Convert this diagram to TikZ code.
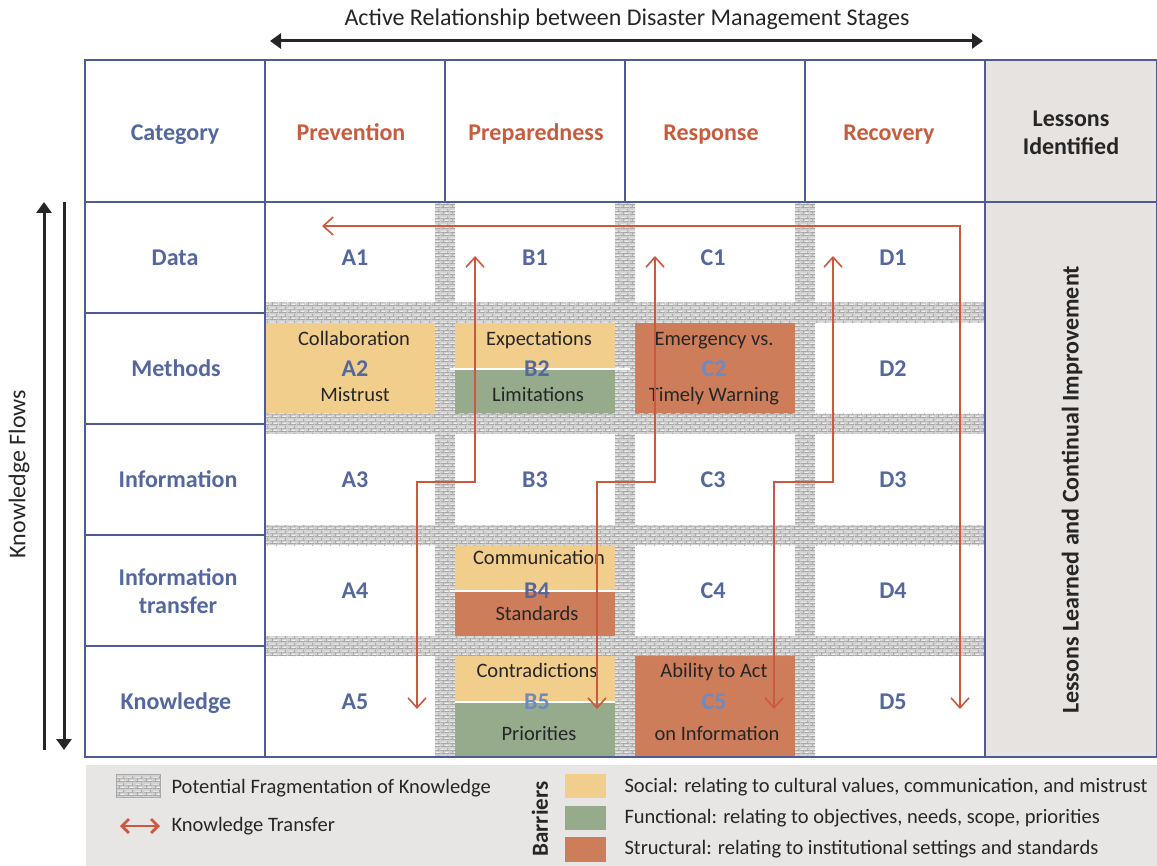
\documentclass[tikz,border=0pt]{standalone}
\usepackage{fontspec}
\setmainfont{Carlito}
\usetikzlibrary{arrows.meta,patterns}

\definecolor{gridblue}{RGB}{78,92,150}
\definecolor{idblue}{RGB}{84,104,158}
\definecolor{idlight}{RGB}{110,138,195}
\definecolor{stageorange}{RGB}{200,92,62}
\definecolor{social}{RGB}{242,206,140}
\definecolor{functional}{RGB}{150,170,140}
\definecolor{structural}{RGB}{205,125,90}
\definecolor{lessonsgray}{RGB}{230,227,225}
\definecolor{legendgray}{RGB}{232,230,228}
\definecolor{flowred}{RGB}{206,88,62}
\definecolor{stonebase}{RGB}{210,210,210}
\definecolor{stoneline}{RGB}{168,168,168}
\definecolor{stonehi}{RGB}{240,240,240}

% cobblestone texture for the fragmentation strips: dark joints
\pgfdeclarepatternformonly{cobble}{\pgfpointorigin}{\pgfqpoint{9pt}{7pt}}{\pgfqpoint{9pt}{7pt}}{%
  \pgfsetlinewidth{0.7pt}%
  \pgfpathmoveto{\pgfqpoint{0pt}{0.5pt}}\pgfpathcurveto{\pgfqpoint{3pt}{1.2pt}}{\pgfqpoint{6pt}{0pt}}{\pgfqpoint{9pt}{0.5pt}}%
  \pgfpathmoveto{\pgfqpoint{0pt}{4pt}}\pgfpathcurveto{\pgfqpoint{3pt}{3.4pt}}{\pgfqpoint{6pt}{4.6pt}}{\pgfqpoint{9pt}{4pt}}%
  \pgfpathmoveto{\pgfqpoint{3pt}{0.5pt}}\pgfpathlineto{\pgfqpoint{2.6pt}{4pt}}%
  \pgfpathmoveto{\pgfqpoint{7pt}{4pt}}\pgfpathlineto{\pgfqpoint{7.4pt}{7pt}}%
  \pgfusepath{stroke}}
% light highlights on the stones
\pgfdeclarepatternformonly{cobblehi}{\pgfpointorigin}{\pgfqpoint{9pt}{7pt}}{\pgfqpoint{9pt}{7pt}}{%
  \pgfsetlinewidth{0.8pt}%
  \pgfpathmoveto{\pgfqpoint{4pt}{1.6pt}}\pgfpathlineto{\pgfqpoint{8pt}{1.8pt}}%
  \pgfpathmoveto{\pgfqpoint{0.5pt}{5.2pt}}\pgfpathlineto{\pgfqpoint{6pt}{5.4pt}}%
  \pgfusepath{stroke}}

\tikzset{
  grid line/.style={draw=gridblue, line width=1.4pt},
  stone/.style={fill=stonebase,
    postaction={pattern=cobblehi, pattern color=stonehi},
    postaction={pattern=cobble, pattern color=stoneline}},
  bigtext/.style={font=\bfseries\fontsize{24}{28}\selectfont, text height=20pt, text depth=5pt},
  hdrtext/.style={bigtext, text=idblue, align=center},
  stagetext/.style={bigtext, text=stageorange},
  lessontext/.style={bigtext, text=black!85, align=center},
  cellid/.style={bigtext, text=idblue},
  cellidlt/.style={bigtext, text=idlight},
  barrier/.style={font=\fontsize{20.5}{24}\selectfont, text=black!85, text height=17pt, text depth=4pt},
  legendtext/.style={font=\fontsize{20.5}{24}\selectfont, text=black!85, anchor=west},
  rbarb/.tip={Straight Barb[length=10pt,width=18pt,line width=1.6pt]},
  bhead/.tip={Triangle[length=11pt,width=15pt]},
  flowboth/.style={draw=flowred, line width=1.6pt, {rbarb}-{rbarb}},
  blackline/.style={draw=black!85, line width=3pt},
}

\begin{document}
\begin{tikzpicture}[x=1pt,y=-1pt]
\useasboundingbox (0,0) rectangle (1157,866);
\fill[white] (0,0) rectangle (1157,866);

% title and stage arrow
\node[font=\fontsize{24}{28}\selectfont, text=black!85] (title) at (627,19) {Active Relationship between Disaster Management Stages};
\coordinate (stL) at (270,41);
\coordinate (stR) at (983,41);
\draw[blackline, {bhead}-{bhead}] (stL) -- (stR);

% knowledge flow arrows on the left
\coordinate (kfUpB) at (44,750);
\coordinate (kfUpT) at (44,202);
\coordinate (kfDnT) at (64,202);
\coordinate (kfDnB) at (64,750);
\draw[blackline, -{bhead}] (kfUpB) -- (kfUpT);
\draw[blackline, -{bhead}] (kfDnT) -- (kfDnB);
\node[rotate=90, font=\fontsize{24}{28}\selectfont, text=black!85] (kflow) at (19,474) {Knowledge Flows};

% lessons column and legend band
\fill[lessonsgray] (985,60) rectangle (1157,757);
\fill[legendgray] (86,765) rectangle (1157,866);

% barrier boxes
\fill[social] (265,323) rectangle (435,414);
\fill[social] (455,323) rectangle (615,369);
\fill[functional] (455,369) rectangle (615,414);
\fill[structural] (635,323) rectangle (795,414);
\fill[social] (455,545) rectangle (615,591);
\fill[structural] (455,591) rectangle (615,636);
\fill[social] (455,656) rectangle (615,702);
\fill[functional] (455,702) rectangle (615,757);
\fill[structural] (635,656) rectangle (795,757);

% fragmentation strips
\foreach \y in {313,424,535,646} {
  \path[stone] (265,\y-10) rectangle (985,\y+10);
}
\foreach \x in {445,625,805} {
  \path[stone] (\x-10,202) rectangle (\x+10,757);
}

% seams between the two halves of split boxes
\draw[white, line width=1.5pt] (450,369) -- (630,369);
\draw[white, line width=1.5pt] (450,591) -- (630,591);
\draw[white, line width=1.5pt] (455,702) -- (615,702);

% table lines
\draw[grid line] (85,60) rectangle (1157,757);
\draw[grid line] (85,202) -- (1157,202);
\draw[grid line] (265,60) -- (265,757);
\draw[grid line] (985,60) -- (985,757);
\foreach \x in {445,625,805} { \draw[grid line] (\x,60) -- (\x,202); }
\foreach \y in {313,424,535,646} { \draw[grid line] (85,\y) -- (265,\y); }

% header row
\node[hdrtext] (hcat) at (175,133) {Category};
\node[stagetext] (hprev) at (351,133) {Prevention};
\node[stagetext] (hprep) at (536,133) {Preparedness};
\node[stagetext] (hresp) at (711,133) {Response};
\node[stagetext] (hrec) at (889,133) {Recovery};
\node[font=\bfseries\fontsize{24}{28}\selectfont, text=black!85, align=center] (hles) at (1071,133) {Lessons\\Identified};

% category column
\node[hdrtext] (rdata) at (175,258) {Data};
\node[hdrtext] (rmeth) at (176,369) {Methods};
\node[hdrtext] (rinfo) at (178,480) {Information};
\node[font=\bfseries\fontsize{24}{28}\selectfont, text=idblue, align=center] (rtrans) at (178,591) {Information\\transfer};
\node[hdrtext] (rknow) at (176,702) {Knowledge};

% lessons learned column
\node[lessontext, rotate=90] (lll) at (1071,490) {Lessons Learned and Continual Improvement};

% cell identifiers
\node[cellid] (A1) at (355,258) {A1};
\node[cellid] (B1) at (535,258) {B1};
\node[cellid] (C1) at (713,258) {C1};
\node[cellid] (D1) at (893,258) {D1};
\node[cellid] (A2) at (355,369) {A2};
\node[cellid] (B2) at (537,369) {B2};
\node[cellidlt] (C2) at (714,369) {C2};
\node[cellid] (D2) at (893,369) {D2};
\node[cellid] (A3) at (355,480) {A3};
\node[cellid] (B3) at (535,480) {B3};
\node[cellid] (C3) at (713,480) {C3};
\node[cellid] (D3) at (893,480) {D3};
\node[cellid] (A4) at (355,591) {A4};
\node[cellid] (B4) at (537,591) {B4};
\node[cellid] (C4) at (713,591) {C4};
\node[cellid] (D4) at (893,591) {D4};
\node[cellid] (A5) at (355,702) {A5};
\node[cellidlt] (B5) at (537,702) {B5};
\node[cellidlt] (C5) at (714,702) {C5};
\node[cellid] (D5) at (893,702) {D5};

% barrier texts
\node[barrier] (tA2a) at (354,339) {Collaboration};
\node[barrier] (tA2b) at (355,395) {Mistrust};
\node[barrier] (tB2a) at (539,339) {Expectations};
\node[barrier] (tB2b) at (538,395) {Limitations};
\node[barrier] (tC2a) at (714,339) {Emergency vs.};
\node[barrier] (tC2b) at (714,395) {Timely Warning};
\node[barrier] (tB4a) at (539,558) {Communication};
\node[barrier] (tB4b) at (537,614) {Standards};
\node[barrier] (tB5a) at (537,671) {Contradictions};
\node[barrier] (tB5b) at (539,734) {Priorities};
\node[barrier] (tC5a) at (714,671) {Ability to Act};
\node[barrier] (tC5b) at (717,734) {on Information};

% knowledge transfer paths
\coordinate (loopL) at (322,226);
\coordinate (loopC) at (960,226);
\coordinate (loopB) at (960,709);
\draw[flowboth] (loopL) -- (loopC) -- (loopB);

\coordinate (abT) at (475,256);
\coordinate (abM) at (475,482);
\coordinate (abN) at (417,482);
\coordinate (abB) at (417,709);
\draw[flowboth] (abT) -- (abM) -- (abN) -- (abB);

\coordinate (bcT) at (655,256);
\coordinate (bcM) at (655,482);
\coordinate (bcN) at (597,482);
\coordinate (bcB) at (597,709);
\draw[flowboth] (bcT) -- (bcM) -- (bcN) -- (bcB);

\coordinate (cdT) at (833,256);
\coordinate (cdM) at (833,482);
\coordinate (cdN) at (774,482);
\coordinate (cdB) at (774,709);
\draw[flowboth] (cdT) -- (cdM) -- (cdN) -- (cdB);

% legend
\path[stone, draw=stoneline, line width=0.6pt] (116,774) rectangle (160,797);
\node[legendtext] (lgfrag) at (168,788) {Potential Fragmentation of Knowledge};
\coordinate (lgaL) at (120,826);
\coordinate (lgaR) at (160,826);
\draw[draw=flowred, line width=2.8pt, {Straight Barb[length=7pt,width=14pt,line width=2.8pt]}-{Straight Barb[length=7pt,width=14pt,line width=2.8pt]}] (lgaL) -- (lgaR);
\node[legendtext] (lgtrans) at (168,826) {Knowledge Transfer};
\node[rotate=90, font=\bfseries\fontsize{23}{27}\selectfont, text=black!85] (lgbar) at (540,819) {Barriers};
\fill[social] (565,774) rectangle (606,798);
\fill[functional] (565,806) rectangle (606,830);
\fill[structural] (565,837) rectangle (606,862);
\node[legendtext] (lgsoc) at (621,787) {Social: relating to cultural values, communication, and mistrust};
\node[legendtext] (lgfun) at (621,818) {Functional: relating to objectives, needs, scope, priorities};
\node[legendtext] (lgstr) at (621,849) {Structural: relating to institutional settings and standards};
\end{tikzpicture}
\end{document}
